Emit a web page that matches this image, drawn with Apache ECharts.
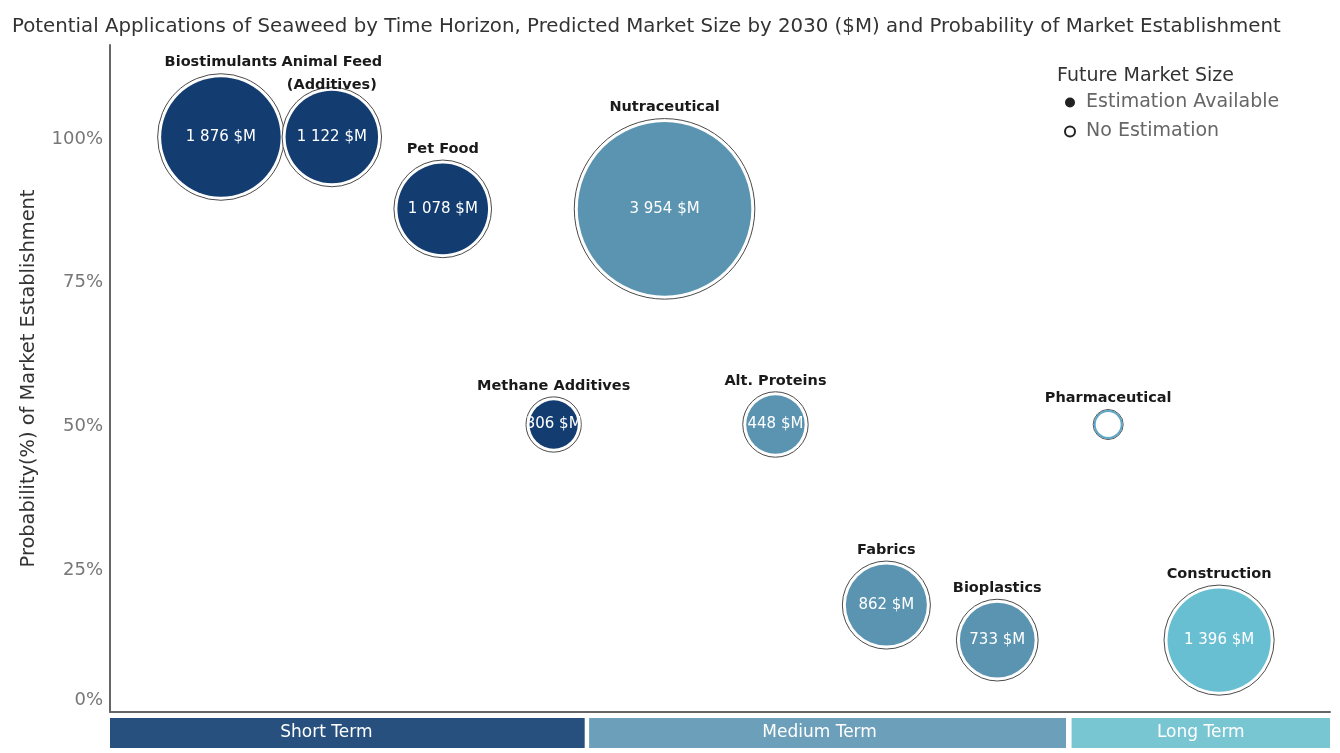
<!DOCTYPE html>
<html>
<head>
<meta charset="utf-8">
<script src="https://cdn.jsdelivr.net/npm/echarts@6/dist/echarts.min.js"></script>
<style>
html,body{margin:0;padding:0;background:#fff;}
#chart{width:1340px;height:753px;}
</style>
</head>
<body>
<div id="chart"></div>
<script>
// ---- data ----
const categories = ['Biostimulants','Animal Feed\n(Additives)','Pet Food','Methane Additives','Nutraceutical','Alt. Proteins','Fabrics','Bioplastics','Pharmaceutical','Construction'];
const xPosition = [1,2,3,4,5,6,7,8,9,10];
const probability = [100,100,87.5,50,87.5,50,18.6,12.5,50,12.5];
const marketSize = [1876,1122,1078,306,3954,448,862,733,null,1396];
const horizon = ['Short Term','Short Term','Short Term','Short Term','Medium Term','Medium Term','Medium Term','Medium Term','Long Term','Long Term'];
const yTickValues = [0,25,50,75,100];
const bandNames = ['Short Term','Medium Term','Long Term'];
const bandStart = [0,4.32,8.67];
const bandEnd = [4.28,8.62,11];

// ---- styles ----
const fillColor = {'Short Term':'#133d71','Medium Term':'#5b94b1','Long Term':'#68bfd1'};
const bandColor = {'Short Term':'#27507f','Medium Term':'#6b9fba','Long Term':'#79c6d3'};
const bandLabelShift = [-21,-8,0];
const K = 2.76;
const FONT = '"DejaVu Sans", "Noto Sans", sans-serif';

function fmt(v){ return String(v).replace(/\B(?=(\d{3})+(?!\d))/g,' ') + ' $M'; }
function diam(i){ return marketSize[i] == null ? 27 : K*Math.sqrt(marketSize[i]); }

const ringData = categories.map((c,i)=>{
  const d = {name:c, value:[xPosition[i], probability[i]], symbolSize: diam(i) + (marketSize[i]==null ? 3 : 7)};
  if (c.indexOf('\n') >= 0) d.label = {offset:[0,9]};
  return d;
});
const fillData = [];
const noEstData = [];
categories.forEach((c,i)=>{
  if (marketSize[i] != null) {
    fillData.push({name:c, value:[xPosition[i], probability[i], marketSize[i]], symbolSize: diam(i),
      itemStyle:{color: fillColor[horizon[i]]}});
  } else {
    noEstData.push({name:c, value:[xPosition[i], probability[i]], symbolSize: diam(i)});
  }
});
const bandData = bandNames.map((n,i)=>[bandStart[i], bandEnd[i], n]);

const chart = echarts.init(document.getElementById('chart'), null, {renderer:'canvas'});
chart.setOption({
  animation:false,
  textStyle:{fontFamily:FONT},
  title:[
    {text:'Potential Applications of Seaweed by Time Horizon, Predicted Market Size by 2030 ($M) and Probability of Market Establishment',
     left:7, top:12, textStyle:{fontSize:19.8, fontWeight:'normal', color:'#333', fontFamily:FONT}},
    {text:'Future Market Size', left:1052, top:62, textStyle:{fontSize:19, fontWeight:'normal', color:'#333', fontFamily:FONT}}
  ],
  legend:{
    orient:'vertical', left:1059, top:88, itemWidth:10, itemHeight:10, itemGap:10,
    textStyle:{fontSize:19, color:'#666', fontFamily:FONT},
    formatter:n=>' ' + n,
    data:[
      {name:'Estimation Available', icon:'circle', itemStyle:{color:'#222', borderWidth:0}},
      {name:'No Estimation', icon:'circle', itemStyle:{color:'#fff', borderColor:'#222', borderWidth:2}}
    ],
    selectedMode:false
  },
  grid:[
    {left:110, right:10, top:45, bottom:41, containLabel:false},
    {left:110, right:10, top:718, height:30}
  ],
  xAxis:[
    {type:'value', gridIndex:0, min:0, max:11, axisLine:{show:true, onZero:false, lineStyle:{color:'#666', width:2}},
     axisTick:{show:false}, axisLabel:{show:false}, splitLine:{show:false}},
    {type:'value', gridIndex:1, min:0, max:11, show:false}
  ],
  yAxis:[
    {type:'value', gridIndex:0, min:0, max:116,
     name:'Probability(%) of Market Establishment', nameLocation:'middle', nameGap:72,
     nameTextStyle:{fontSize:19.4, color:'#333', fontFamily:FONT},
     axisLine:{show:true, lineStyle:{color:'#666', width:2}},
     axisTick:{show:false},
     axisLabel:{customValues:yTickValues, fontSize:18, color:'#777', margin:7, fontFamily:FONT,
       formatter:v=> v===0 ? '{z|0%}' : '{a|' + v + '%}',
       rich:{a:{fontSize:18, color:'#777', fontFamily:FONT, padding:[4,0,0,0]},
             z:{fontSize:18, color:'#777', fontFamily:FONT, padding:[0,0,24,0]}}},
     splitLine:{show:false}},
    {type:'value', gridIndex:1, min:0, max:1, show:false}
  ],
  series:[
    {type:'custom', xAxisIndex:1, yAxisIndex:1, data:bandData, silent:true,
     renderItem:function(params, api){
       const p0 = api.coord([api.value(0), 1]);
       const p1 = api.coord([api.value(1), 0]);
       const i = params.dataIndex;
       const name = bandNames[i];
       return {type:'group', children:[
         {type:'rect', shape:{x:p0[0], y:p0[1], width:p1[0]-p0[0], height:p1[1]-p0[1]}, style:{fill:bandColor[name]}},
         {type:'text', x:(p0[0]+p1[0])/2 + bandLabelShift[i], y:(p0[1]+p1[1])/2,
          style:{text:name, fill:'#fff', fontSize:17, fontFamily:FONT, align:'center', verticalAlign:'middle'}}
       ]};
     }},
    {name:'ring', type:'scatter', data:ringData, silent:true, z:2,
     itemStyle:{color:'#fff', borderColor:'#4a4a4a', borderWidth:1, opacity:1},
     label:{show:true, position:'top', distance:-1, formatter:p=>p.name, fontSize:14.5, fontWeight:'bold',
       color:'#1a1a1a', fontFamily:FONT, lineHeight:23}},
    {name:'Estimation Available', type:'scatter', data:fillData, z:3,
     itemStyle:{opacity:1},
     label:{show:true, position:'inside', formatter:p=>fmt(p.value[2]), fontSize:15, color:'#fff', fontFamily:FONT}},
    {name:'No Estimation', type:'scatter', data:noEstData, z:3,
     itemStyle:{color:'#fff', borderColor:'#5fa7c6', borderWidth:2, opacity:1}}
  ]
});
</script>
</body>
</html>
